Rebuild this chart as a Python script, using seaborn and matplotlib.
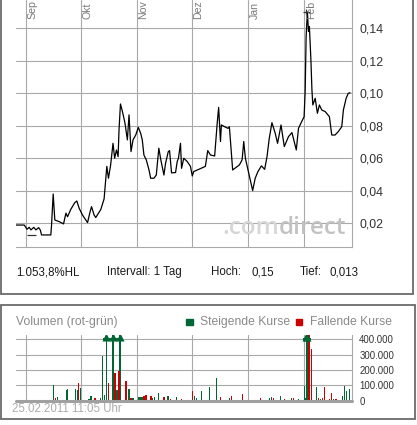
import numpy as np
import pandas as pd
import matplotlib
matplotlib.use("Agg")
import matplotlib.pyplot as plt
import seaborn as sns
from matplotlib.lines import Line2D
from matplotlib.patches import Rectangle
from matplotlib.transforms import offset_copy

# ---------------- data ----------------
month_labels = ["Sep", "Okt", "Nov", "Dez", "Jan", "Feb"]
month_days = [0, 30, 61, 91, 122, 153]          # days since 2010-09-01

price_day = [-5.6, -1.1, 0.4, 1.6, 2.6, 4.1, 5.3, 6.8, 7.7, 8.4, 13.5, 13.9, 14.8, 15.7,
             18.1, 20.5, 21.8, 22.7, 24.5, 26.7, 27.8, 29.1, 30.9, 33.7, 35.1, 35.9, 37.3,
             38.2, 41.0, 42.8, 43.7, 44.3, 45.2, 46.4, 47.7, 48.6, 49.6, 50.5, 51.0, 51.8,
             52.9, 54.3, 55.6, 56.5, 57.6, 58.7, 60.2, 61.6, 62.9, 63.8, 64.7, 66.0, 67.5,
             68.4, 70.2, 71.5, 72.9, 74.0, 75.7, 76.6, 78.1, 78.8, 79.9, 82.1, 83.0, 83.7,
             84.8, 85.4, 86.6, 88.5, 90.3, 91.3, 92.1, 94.9, 98.5, 99.8, 101.3, 103.6, 105.0,
             105.8, 106.8, 107.3, 109.1, 111.0, 111.7, 113.5, 117.2, 118.7, 119.6, 120.5,
             122.3, 124.5, 125.9, 127.4, 129.3, 131.1, 132.4, 133.6, 135.1, 136.9, 138.2,
             140.1, 141.9, 144.2, 146.1, 148.5, 149.7, 151.0, 152.8, 153.4, 153.9, 154.6,
             155.2, 155.7, 156.5, 157.1, 157.6, 158.9, 160.1, 161.2, 162.5, 164.4, 166.7,
             168.0, 169.8, 171.6, 173.5, 174.4, 175.9, 177.1, 178.1]
price = [0.0189, 0.0189, 0.0163, 0.0175, 0.0159, 0.0175, 0.0159, 0.0173, 0.0159, 0.0128,
         0.0128, 0.0189, 0.0380, 0.0220, 0.0210, 0.0196, 0.0262, 0.0240, 0.0286, 0.0327,
         0.0337, 0.0292, 0.0251, 0.0204, 0.0271, 0.0302, 0.0251, 0.0235, 0.0285, 0.0350,
         0.0467, 0.0550, 0.0477, 0.0559, 0.0692, 0.0600, 0.0651, 0.0610, 0.0774, 0.0934,
         0.0887, 0.0815, 0.0713, 0.0867, 0.0641, 0.0713, 0.0743, 0.0790, 0.0754, 0.0713,
         0.0620, 0.0590, 0.0528, 0.0477, 0.0477, 0.0497, 0.0662, 0.0590, 0.0497, 0.0569,
         0.0641, 0.0647, 0.0510, 0.0512, 0.0580, 0.0600, 0.0692, 0.0538, 0.0600, 0.0580,
         0.0550, 0.0491, 0.0518, 0.0532, 0.0550, 0.0647, 0.0620, 0.0614, 0.0815, 0.0913,
         0.0703, 0.0805, 0.0794, 0.0784, 0.0794, 0.0528, 0.0559, 0.0590, 0.0703, 0.0600,
         0.0510, 0.0401, 0.0477, 0.0518, 0.0553, 0.0532, 0.0610, 0.0720, 0.0819, 0.0754,
         0.0692, 0.0805, 0.0672, 0.0733, 0.0758, 0.0651, 0.0784, 0.0815, 0.0856, 0.1020,
         0.1348, 0.1500, 0.1380, 0.1410, 0.1215, 0.1020, 0.0928, 0.0969, 0.0877, 0.0928,
         0.0897, 0.0887, 0.0856, 0.0743, 0.0743, 0.0764, 0.0794, 0.0897, 0.0969, 0.1000,
         0.1003]

hoch, tief = 0.15, 0.013
hoch_day, tief_day = 154.1, 2.9

vol_day = [-4.7, -1.1, 0.5, 1.6, 5.3, 6.6, 8.8, 14.8, 15.9, 17.0, 19.7, 20.8, 22.2, 22.7,
           23.6, 26.9, 28.0, 28.5, 29.6, 30.7, 34.5, 35.6, 36.7, 37.8, 40.6, 41.7, 42.8,
           43.9, 45.0, 46.1, 47.7, 48.8, 49.9, 51.0, 51.5, 54.8, 55.9, 56.5, 57.6, 58.7,
           62.0, 62.5, 63.6, 64.7, 65.8, 68.6, 69.6, 70.7, 71.8, 72.9, 75.7, 76.8, 77.9,
           79.5, 82.8, 83.9, 85.5, 86.6, 89.9, 90.5, 91.6, 92.7, 93.8, 96.5, 97.6, 98.7,
           100.9, 103.6, 104.7, 105.8, 106.9, 107.5, 110.8, 111.9, 113.0, 119.0, 128.9,
           131.6, 132.7, 133.8, 134.9, 136.0, 138.7, 139.8, 140.9, 142.0, 142.6, 145.9,
           147.0, 147.5, 149.7, 153.0, 153.6, 154.1, 154.6, 155.2, 155.7, 156.8, 159.6,
           160.7, 161.6, 162.9, 164.0, 166.7, 167.8, 168.9, 170.0, 170.6, 173.8, 174.9,
           176.0, 177.1, 177.7]
volume = [2000, 2000, 2000, 2000, 2000, 2000, 2000, 102000, 17000, 25000, 2000, 2000,
          70000, 75000, 2000, 75000, 70000, 117000, 85000, 2000, 10000, 30000, 3000, 15000,
          15000, 291000, 35000, 600000, 117000, 3000, 600000, 183000, 70000, 193000, 600000,
          128000, 5000, 75000, 20000, 18000, 25000, 25000, 25000, 30000, 35000, 30000,
          15000, 25000, 3000, 50000, 25000, 5000, 30000, 10000, 25000, 5000, 10000, 3000,
          3000, 3000, 63000, 30000, 15000, 60000, 3000, 3000, 89000, 3000, 145000, 5000,
          25000, 5000, 3000, 15000, 30000, 44000, 15000, 3000, 3000, 15000, 25000, 15000,
          3000, 30000, 3000, 10000, 3000, 15000, 15000, 3000, 8000, 98000, 20000, 600000,
          600000, 430000, 430000, 337000, 91000, 20000, 10000, 20000, 91000, 12000, 52000,
          12000, 12000, 12000, 30000, 96000, 65000, 5000, 74000]
# u = steigend (green), d = fallend (red)
vol_dir = ("u u d u u u u u d u  d d u u d u u d u d  u u u d u u u u d u  "
           "u d u d u d d u d u  u u u d d d u u d u  d u u d u u d d d d  "
           "d u u u u u u d u d  d u d u d d d u d u  u d d u d d u u d d  "
           "u u u u u d d d u d  u d d d d u d d u u  u d u").split()

# ---------------- figure ----------------
sns.set_style("white")
plt.rcParams["font.family"] = ["Liberation Sans", "DejaVu Sans"]

W, H = 417, 425
fig = plt.figure(figsize=(W / 100, H / 100), dpi=100)

def fx(px):
    return px / W

def fy(py):
    return 1 - py / H

GRID = "#a9a9a9"
GREEN = "#006633"
RED = "#cc0000"
x_left, x_right = -5.65, 179.3

# price panel
axp = fig.add_axes([fx(16), fy(247.3), fx(352.3) - fx(16), fy(0) - fy(247.3)])
dfp = pd.DataFrame({"day": price_day, "price": price})
sns.lineplot(data=dfp, x="day", y="price", sort=False, estimator=None,
             color="black", lw=0.9, ax=axp, zorder=3)
axp.hlines([hoch], hoch_day - 2.0, hoch_day + 2.0, color="#333333", lw=0.9, zorder=3)
axp.vlines([hoch_day], hoch - 0.002, hoch + 0.002, color="#333333", lw=0.9, zorder=3)
axp.hlines([tief], tief_day - 2.7, tief_day + 2.7, color="#333333", lw=0.9, zorder=3)
axp.set_xlim(x_left, x_right)
axp.set_ylim(0.0052, 0.1574)
price_ticks = [0.02, 0.04, 0.06, 0.08, 0.10, 0.12, 0.14]
axp.set_yticks(price_ticks)
axp.set_yticklabels([f"{v:.2f}".replace(".", ",") for v in price_ticks])
axp.yaxis.tick_right()
axp.set_xticks(month_days)
axp.set_xticklabels([])
axp.tick_params(axis="both", length=0, pad=5, labelsize=8.9, labelcolor="#333333")
axp.grid(True, color=GRID, lw=0.8)
axp.set_axisbelow(True)
axp.set_xlabel("")
axp.set_ylabel("")
for s in ["left", "top"]:
    axp.spines[s].set_visible(False)
for s in ["right", "bottom"]:
    axp.spines[s].set_color(GRID)
    axp.spines[s].set_linewidth(0.8)
for d, lab in zip(month_days, month_labels):
    axp.text(d + 3.5, 1 - 19 / 247.3, lab, rotation=90, ha="center", va="bottom",
             fontsize=7.6, color="#7a7a7a", transform=axp.get_xaxis_transform(),
             clip_on=False)

# watermark in two tones
wm_kw = dict(fontsize=17.5, fontweight="semibold", family=["Open Sans", "DejaVu Sans"],
             va="baseline", zorder=1)
t_direct = axp.text(0.983, (247.3 - 234) / 247.3, "direct", transform=axp.transAxes,
                    ha="right", color="#c2c2c2", **wm_kw)
fig.canvas.draw()
bb = t_direct.get_window_extent(renderer=fig.canvas.get_renderer())
x_join = axp.transAxes.inverted().transform((bb.x0, bb.y0))[0]
axp.text(x_join, (247.3 - 234) / 247.3, ".com", transform=axp.transAxes,
         ha="right", color="#d6d6d6", **wm_kw)

# stats line
ys = fy(272.3)
for px, s in [(16, "1.053,8%HL"), (107, "Intervall: 1 Tag"), (210.5, "Hoch:"),
              (251.5, "0,15"), (300, "Tief:"), (329.3, "0,013")]:
    fig.text(fx(px), ys, s, fontsize=8.3, color="#1a1a1a", va="center")

# panel borders
BORDER = "#6b6b6b"
for (xa, ya, xb, yb) in [(1, 0, 1, 294), (1, 294, 413, 294), (413, 0, 413, 294),
                         (1, 304.7, 415, 304.7), (1, 304.7, 1, 419.3),
                         (415, 304.7, 415, 419.3), (1, 419.3, 415, 419.3)]:
    fig.add_artist(Line2D([fx(xa), fx(xb)], [fy(ya), fy(yb)], color=BORDER, lw=1.3))

# volume panel
axv = fig.add_axes([fx(16), fy(400.7), fx(352.3) - fx(16), fy(335) - fy(400.7)])
vtop = 428000
dfv = pd.DataFrame({"day": vol_day, "volume": volume,
                    "dir": ["up" if c == "u" else "down" for c in vol_dir]})
for key, col in [("up", GREEN), ("down", RED)]:
    sub = dfv[dfv["dir"] == key]
    axv.bar(sub["day"], sub["volume"], width=0.65, color=col, lw=0, zorder=2)
over = dfv[(dfv["volume"] > vtop) & (dfv["dir"] == "up")]
axv.hlines([400000] * len(over), over["day"] - 1.9, over["day"] + 1.9, color=GREEN,
           lw=1.4, zorder=3)
sns.scatterplot(x=over["day"].to_numpy(), y=np.full(len(over), 412000.0), marker="^",
                s=34, color=GREEN, edgecolor=GREEN, linewidth=0, ax=axv, zorder=4)
axv.set_xlim(x_left, x_right)
axv.set_ylim(0, vtop)
vol_ticks = [0, 100000, 200000, 300000, 400000]
axv.set_yticks(vol_ticks)
axv.set_yticklabels([f"{v:,.0f}".replace(",", ".") for v in vol_ticks])
axv.yaxis.tick_right()
axv.set_xticks(month_days)
axv.set_xticklabels([])
axv.tick_params(axis="both", length=0, pad=5, labelsize=6.9, labelcolor="#333333")
axv.grid(True, color=GRID, lw=0.8)
axv.set_axisbelow(True)
axv.set_xlabel("")
axv.set_ylabel("")
for s in ["left", "top", "bottom"]:
    axv.spines[s].set_visible(False)
axv.spines["right"].set_color(GRID)
axv.spines["right"].set_linewidth(0.8)
axv.axhline(0, color="#a0a0a0", lw=2.2, zorder=5, clip_on=False)

# volume header / legend
yh = fy(321.7)
fig.text(fx(16), yh, "Volumen (rot-grün)", fontsize=8.7, color="#8a8a8a", va="center")
fig.add_artist(Rectangle((fx(186), fy(325)), fx(6.5), fy(318.5) - fy(325),
                         color=GREEN, transform=fig.transFigure))
fig.text(fx(200.5), yh, "Steigende Kurse", fontsize=8.7, color="#8a8a8a", va="center")
fig.add_artist(Rectangle((fx(295.7), fy(325)), fx(6.5), fy(318.5) - fy(325),
                         color=RED, transform=fig.transFigure))
fig.text(fx(310), yh, "Fallende Kurse", fontsize=8.7, color="#8a8a8a", va="center")

fig.text(fx(11.7), fy(409.3), "25.02.2011 11:05 Uhr", fontsize=8.3, color="#ababab",
         va="center", zorder=10)

fig.savefig("out.png", dpi=100, facecolor="white")
